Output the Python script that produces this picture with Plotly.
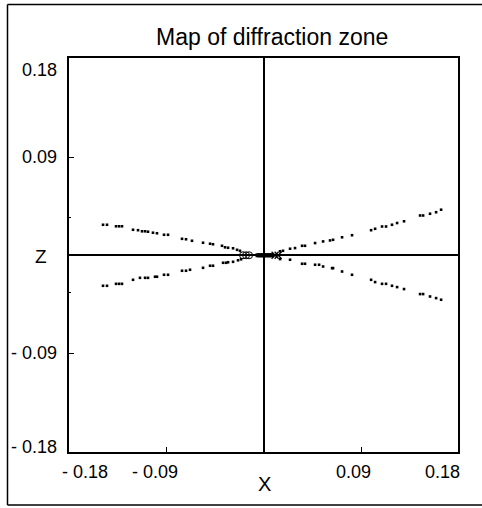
import plotly.graph_objects as go

# ---- data ----
upper_left_x = [-0.1486, -0.1449, -0.1366, -0.1338, -0.1311, -0.1209, -0.1163, -0.1126, -0.1098, -0.1071,
                -0.1025, -0.0988, -0.0923, -0.0886, -0.0757, -0.0720, -0.0665, -0.0563, -0.0498, -0.0471,
                -0.0388, -0.0360, -0.0332, -0.0286, -0.0249, -0.0222]
upper_left_z = [0.0280, 0.0280, 0.0266, 0.0266, 0.0266, 0.0234, 0.0230, 0.0220, 0.0220, 0.0216,
                0.0207, 0.0202, 0.0188, 0.0188, 0.0151, 0.0147, 0.0133, 0.0115, 0.0106, 0.0101,
                0.0087, 0.0073, 0.0069, 0.0064, 0.0050, 0.0041]

lower_left_x = [-0.1486, -0.1449, -0.1366, -0.1338, -0.1311, -0.1209, -0.1145, -0.1098, -0.1071, -0.1006,
                -0.0988, -0.0923, -0.0886, -0.0757, -0.0720, -0.0683, -0.0563, -0.0498, -0.0471, -0.0378,
                -0.0351, -0.0332, -0.0286, -0.0240, -0.0212]
lower_left_z = [-0.0280, -0.0280, -0.0262, -0.0262, -0.0262, -0.0225, -0.0207, -0.0207, -0.0207, -0.0197,
                -0.0197, -0.0179, -0.0179, -0.0142, -0.0142, -0.0133, -0.0115, -0.0096, -0.0096, -0.0069,
                -0.0069, -0.0064, -0.0060, -0.0046, -0.0037]

upper_right_x = [0.0148, 0.0175, 0.0240, 0.0286, 0.0351, 0.0378, 0.0471, 0.0545, 0.0609, 0.0637,
                 0.0720, 0.0812, 0.0988, 0.1025, 0.1089, 0.1126, 0.1181, 0.1228, 0.1292, 0.1440,
                 0.1468, 0.1532, 0.1588, 0.1634]
upper_right_z = [0.0037, 0.0041, 0.0060, 0.0066, 0.0087, 0.0087, 0.0112, 0.0127, 0.0136, 0.0142,
                 0.0165, 0.0184, 0.0230, 0.0243, 0.0264, 0.0264, 0.0280, 0.0296, 0.0312, 0.0365,
                 0.0365, 0.0381, 0.0395, 0.0418]

lower_right_x = [0.0148, 0.0240, 0.0351, 0.0378, 0.0471, 0.0508, 0.0545, 0.0628, 0.0637, 0.0720,
                 0.0812, 0.0988, 0.1025, 0.1089, 0.1126, 0.1181, 0.1228, 0.1292, 0.1440, 0.1468,
                 0.1532, 0.1588, 0.1634]
lower_right_z = [-0.0035, -0.0041, -0.0078, -0.0078, -0.0087, -0.0087, -0.0103, -0.0118, -0.0118, -0.0149,
                 -0.0179, -0.0225, -0.0246, -0.0262, -0.0262, -0.0280, -0.0292, -0.0310, -0.0356, -0.0356,
                 -0.0378, -0.0393, -0.0408]

circle_x = [-0.0194, -0.0166, -0.0138]
circle_z = [0.0, 0.0, 0.0]
core_x = [-0.0060, -0.0045, -0.0030, -0.0015, 0.0, 0.0015, 0.0030, 0.0045, 0.0060, 0.0075]
core_z = [0.0, 0.0, 0.0, 0.0, 0.0, 0.0, 0.0, 0.0, 0.0, 0.0]
cross_x = [0.0102, 0.0130]
cross_z = [0.0, 0.0]

title_text = "Map of diffraction zone"
x_tick_labels = ["- 0.18", "- 0.09", "0.09", "0.18"]
z_tick_labels = ["0.18", "0.09", "- 0.09", "- 0.18"]
x_title = "X"
z_title = "Z"

# ---- layout geometry (pixels of the 482x508 page) ----
W, H = 482, 508
L, R, T, B = 69, 458, 58, 452
PW, PH = R - L, B - T


def px(xp):
    return (xp - L) / PW


def py(yp):
    return (B - yp) / PH


FONT = "Arial, Liberation Sans, sans-serif"

fig = go.Figure()
dot = dict(color="black", size=2.6, symbol="square", line=dict(width=0))
for xs, zs in [(upper_left_x, upper_left_z), (lower_left_x, lower_left_z),
               (upper_right_x, upper_right_z), (lower_right_x, lower_right_z)]:
    fig.add_trace(go.Scatter(x=xs, y=zs, mode="markers", marker=dot, hoverinfo="skip"))

fig.add_trace(go.Scatter(x=circle_x, y=circle_z, mode="markers",
                         marker=dict(symbol="circle-open", size=7, color="black", line=dict(width=1, color="black"))))
fig.add_trace(go.Scatter(x=core_x, y=core_z, mode="markers",
                         marker=dict(symbol="square", size=4, color="black", line=dict(width=0))))
fig.add_trace(go.Scatter(x=cross_x, y=cross_z, mode="markers",
                         marker=dict(symbol="x-thin-open", size=7, color="black", line=dict(width=1.2, color="black"))))

axis_common = dict(showgrid=False, zeroline=True, zerolinecolor="black", zerolinewidth=1.5,
                   showline=True, linecolor="black", linewidth=1.5, mirror=True,
                   ticks="inside", tickcolor="black", tickwidth=1.2, showticklabels=False,
                   tickmode="array", fixedrange=True)

fig.update_layout(
    width=W, height=H,
    margin=dict(l=L, r=W - R, t=T, b=H - B, pad=0),
    paper_bgcolor="white", plot_bgcolor="white",
    showlegend=False,
    font=dict(family=FONT, size=18, color="black"),
    xaxis=dict(range=[-0.180, 0.179], tickvals=[-0.09, 0.09], ticklen=5, **axis_common),
    yaxis=dict(range=[-0.1805, 0.181], tickvals=[-0.09, 0.09], ticklen=5,
               minor=dict(tickmode="array", tickvals=[-0.0344, 0.0344], ticks="inside", ticklen=2,
                          tickcolor="black", tickwidth=1.2),
               **axis_common),
)

ann = []
ann.append(dict(text=title_text, x=px(272), y=py(37), font=dict(size=23)))
for t, xp in zip(x_tick_labels, [85, 155, 353, 442]):
    ann.append(dict(text=t, x=px(xp), y=py(472)))
ann.append(dict(text=x_title, x=px(264), y=py(484), font=dict(size=20)))
for t, yp in zip(z_tick_labels, [70, 157, 353, 447]):
    ann.append(dict(text=t, x=px(59), y=py(yp), xanchor="right"))
ann.append(dict(text=z_title, x=px(41), y=py(256), font=dict(size=19)))

for a in ann:
    a.setdefault("xanchor", "center")
    a.update(xref="paper", yref="paper", yanchor="middle", showarrow=False)
    fig.add_annotation(**a)

# outer frame of the picture (left, top, bottom edges; right edge lies outside the view)
frame = dict(type="line", xref="paper", yref="paper", line=dict(color="black", width=1.5), layer="above")
fig.add_shape(x0=px(7.5), x1=px(7.5), y0=py(505), y1=py(4.5), **frame)
fig.add_shape(x0=px(7.5), x1=px(490), y0=py(4.5), y1=py(4.5), **frame)
fig.add_shape(x0=px(7.5), x1=px(490), y0=py(505), y1=py(505), **frame)

fig.write_html("out.html", config={"displayModeBar": False},
               post_script="document.body.style.margin='0';document.body.style.overflow='hidden';")
